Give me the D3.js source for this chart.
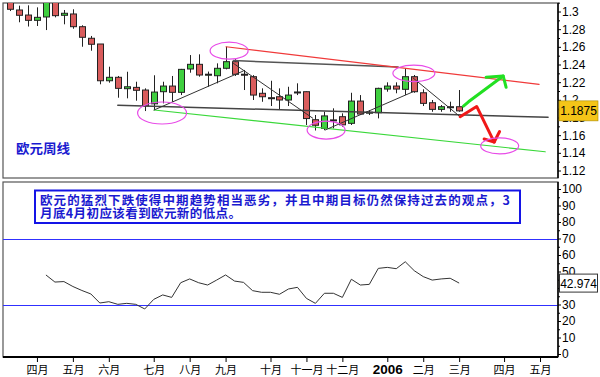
<!DOCTYPE html>
<html><head><meta charset="utf-8">
<script src="https://cdn.jsdelivr.net/npm/d3@7"></script>
<style>body{margin:0;background:#fff}svg{display:block}</style>
</head><body>
<svg id="c" width="600" height="377"></svg>
<script>
// ---------- DATA ----------
const opens  = [1.3110,1.3017,1.2960,1.2900,1.2938,1.3120,1.2957,1.2972,1.2828,1.2697,1.2632,1.2216,1.2255,1.2126,1.2141,1.2111,1.1955,1.2092,1.2156,1.2085,1.2349,1.2402,1.2284,1.2273,1.2357,1.2432,1.2290,1.2262,1.2074,1.2024,1.2035,1.1998,1.2085,1.2092,1.1775,1.1677,1.1773,1.1809,1.1734,1.1986,1.1855,1.1854,1.2122,1.2156,1.2119,1.2262,1.2080,1.1967,1.1892,1.1922,1.1922];
const highs  = [1.3140,1.3066,1.3070,1.3047,1.3150,1.3150,1.3017,1.3025,1.2844,1.2723,1.2632,1.2375,1.2270,1.2318,1.2205,1.2130,1.2278,1.2205,1.2270,1.2350,1.2507,1.2515,1.2320,1.2413,1.2601,1.2460,1.2338,1.2280,1.2130,1.2216,1.2130,1.2148,1.2187,1.2095,1.1828,1.1865,1.1904,1.1847,1.2080,1.2054,1.1884,1.2137,1.2198,1.2198,1.2357,1.2281,1.2119,1.1998,1.1941,1.1979,1.2111];
const lows   = [1.3005,1.2878,1.2830,1.2836,1.2790,1.2934,1.2855,1.2805,1.2601,1.2556,1.2176,1.2194,1.2024,1.2017,1.1990,1.1873,1.1884,1.1960,1.1978,1.2054,1.2307,1.2262,1.2148,1.2187,1.2345,1.2270,1.2111,1.1998,1.1978,1.1930,1.1885,1.1930,1.2054,1.1715,1.1653,1.1658,1.1677,1.1696,1.1715,1.1828,1.1828,1.1790,1.2092,1.2074,1.2054,1.2080,1.1930,1.1865,1.1865,1.1865,1.1865];
const closes = [1.3025,1.2957,1.2900,1.2934,1.3120,1.2953,1.2980,1.2828,1.2708,1.2629,1.2216,1.2255,1.2130,1.2148,1.2108,1.1930,1.2088,1.2156,1.2085,1.2345,1.2402,1.2281,1.2290,1.2357,1.2432,1.2289,1.2286,1.2054,1.2035,1.2020,1.1998,1.2054,1.2089,1.1788,1.1712,1.1818,1.1770,1.1717,1.1986,1.1839,1.1860,1.2130,1.2156,1.2122,1.2262,1.2092,1.1960,1.1892,1.1922,1.1920,1.1875];

const rsiStart = 4;
const rsiValues = [47.9,43.6,43.9,40.9,38.5,36.4,30.9,31.7,30.1,30.7,30.1,27.3,33.1,35.8,34.3,43.2,45.5,43.2,41.8,44.8,47.9,44.2,43.4,38.4,37.4,37.4,36.2,39.4,40.4,33.7,30.7,36.8,36.8,34.3,45.3,41.8,42.2,51.9,52.5,51.7,55.9,50.5,46.9,44.8,45.5,45.9,42.974];
const rsiLevels = [70, 30];

const monthTickIdx = [3,7,11,16,20,24,29,33,37,42,46,50,55,59];
const monthLabels  = ['四月','五月','六月','七月','八月','九月','十月','十一月','十二月','2006','二月','三月','四月','五月'];
const priceTicks = [1.12,1.14,1.16,1.18,1.20,1.22,1.24,1.26,1.28,1.30];
const rsiTicks = [0,10,20,30,40,50,60,70,80,90,100];

const lastPrice = 1.1875;
const lastRsi = 42.974;

const chartTitle = '欧元周线';
const noteLines = ['欧元的猛烈下跌使得中期趋势相当恶劣，并且中期目标仍然保持过去的观点，3','月底4月初应该看到欧元新的低点。'];

// annotation geometry in (week index, price)
const lineSupport   = [[12.0,1.1938],[59.9,1.1802]];
const lineUpperGray = [[24.87,1.2444],[43.2,1.2373]];
const lineRed       = [[24.05,1.2601],[58.9,1.2176]];
const lineGreen     = [[16.04,1.1885],[59.58,1.1412]];
const lineUp1       = [[16.04,1.1885],[25.96,1.2326]];
const lineDown1     = [[24.87,1.2413],[33.7,1.1792]];
const lineUp2       = [[35.08,1.1658],[44.88,1.2092]];
const lineDown2     = [[44.88,1.2247],[50.11,1.1809]];
const arrowRed      = [[50.11,1.1809],[51.95,1.1925],[53.9,1.1522]];
const arrowRedHead  = [[52.78,1.1556],[53.9,1.1522],[54.5,1.1641]];
const arrowGreen    = [[50.48,1.1929],[51.04,1.1978],[54.9,1.2270]];
const arrowGreenHead= [[53.0,1.2255],[54.9,1.2270],[55.23,1.2142]];
const ellipseCenters= [[16.93,1.1851],[24.39,1.2556],[35.19,1.1658],[44.96,1.2300],[54.51,1.1479]];

// ---------- DRAW ----------
const svg = d3.select('#c');
const L = 3, R = 558;
const top1 = 3, bot1 = 178, top2 = 182, bot2 = 357;
const numFont = '"Liberation Sans", Arial, sans-serif';
const cjkFont = '"Noto Sans CJK SC", "Noto Sans", sans-serif';

const x = d3.scaleLinear().domain([0,59]).range([10,540]);
const yP = d3.scaleLinear().domain([1.12,1.30]).range([170.5,11.5]);
const yR = d3.scaleLinear().domain([0,100]).range([354,189]);

svg.append('rect').attr('width',600).attr('height',377).attr('fill','#fff');

const defs = svg.append('defs');
defs.append('clipPath').attr('id','cp1').append('rect').attr('x',L).attr('y',top1).attr('width',R-L).attr('height',bot1-top1);
defs.append('clipPath').attr('id','cp2').append('rect').attr('x',L).attr('y',top2).attr('width',R-L).attr('height',bot2-top2);

// panel frames
svg.append('rect').attr('x',L).attr('y',top1).attr('width',R-L).attr('height',bot1-top1).attr('fill','#fff').attr('stroke','#555').attr('stroke-width',1.2);
svg.append('rect').attr('x',L).attr('y',top2).attr('width',R-L).attr('height',bot2-top2).attr('fill','#fff').attr('stroke','#555').attr('stroke-width',1.2);

// ---- top panel ----
const g1 = svg.append('g').attr('clip-path','url(#cp1)');
const candles = opens.map((o,i)=>({i,o,h:highs[i],l:lows[i],c:closes[i]}));
const cg = g1.append('g');
cg.selectAll('line.w').data(candles).join('line')
  .attr('x1',d=>Math.round(x(d.i))+0.5).attr('x2',d=>Math.round(x(d.i))+0.5)
  .attr('y1',d=>yP(d.h)).attr('y2',d=>yP(d.l)).attr('stroke','#222').attr('stroke-width',1);
cg.selectAll('rect.b').data(candles).join('rect')
  .attr('x',d=>Math.round(x(d.i))-2.5).attr('width',6)
  .attr('y',d=>Math.min(yP(d.o),yP(d.c)))
  .attr('height',d=>Math.max(1,Math.abs(yP(d.o)-yP(d.c))))
  .attr('fill',d=>d.c>=d.o?'#3fcf3f':'#d95c5c')
  .attr('stroke','#222').attr('stroke-width',1);

const lineP = d3.line().x(d=>x(d[0])).y(d=>yP(d[1]));
function pl(data,color,w){ g1.append('path').attr('d',lineP(data)).attr('fill','none').attr('stroke',color).attr('stroke-width',w).attr('stroke-linejoin','round').attr('stroke-linecap','round'); }
pl(lineSupport,'#444',1.5);
pl(lineUpperGray,'#555',1.5);
pl(lineRed,'#f03a3a',1.2);
pl(lineGreen,'#3ad83a',1.2);
pl(lineUp1,'#333',1);
pl(lineDown1,'#333',1);
pl(lineUp2,'#333',1);
pl(lineDown2,'#333',1);
pl(arrowRed,'#f01818',3);
pl(arrowRedHead,'#f01818',3);
pl(arrowGreen,'#22e022',3);
pl(arrowGreenHead,'#22e022',3);

const radii = [[24.5,11],[19,8.5],[19,9],[21,8.3],[19,8]];
g1.selectAll('ellipse').data(ellipseCenters).join('ellipse')
  .attr('cx',d=>x(d[0])).attr('cy',d=>yP(d[1]))
  .attr('rx',(d,i)=>radii[i][0]).attr('ry',(d,i)=>radii[i][1])
  .attr('fill','none').attr('stroke','#e84ce8').attr('stroke-width',1.2);

svg.append('text').attr('x',16).attr('y',153).text(chartTitle)
  .attr('font-family',cjkFont).attr('font-weight','bold').attr('font-size',13)
  .attr('fill','#1a1ad0').attr('textLength',54).attr('lengthAdjust','spacingAndGlyphs');

// right price axis
const axP = svg.append('g').attr('transform',`translate(${R},0)`)
  .call(d3.axisRight(yP).tickValues(priceTicks).tickSize(3).tickPadding(1).tickFormat(d=>String(+d.toFixed(2))));
axP.select('.domain').attr('d',`M0,${top1}V${bot1}`).attr('stroke','#000').attr('stroke-width',1.5);
axP.selectAll('text').attr('font-family',numFont).attr('font-size',12).attr('fill','#000');
svg.append('g').attr('transform',`translate(${R},0)`)
  .call(d3.axisRight(yP).tickValues(d3.range(0,10).map(k=>priceTicks[k]+0.01)).tickSize(2).tickFormat(''))
  .select('.domain').remove();

// ---- bottom panel ----
const g2 = svg.append('g').attr('clip-path','url(#cp2)');
g2.selectAll('line.lv').data(rsiLevels).join('line')
  .attr('x1',L).attr('x2',R).attr('y1',d=>Math.round(yR(d))+0.5).attr('y2',d=>Math.round(yR(d))+0.5)
  .attr('stroke','#3030ff').attr('stroke-width',1.2);
g2.append('path')
  .attr('d',d3.line().x((d,k)=>x(rsiStart+k)).y(d=>yR(d))(rsiValues))
  .attr('fill','none').attr('stroke','#333').attr('stroke-width',1);

// note box
svg.append('rect').attr('x',35).attr('y',190.5).attr('width',485).attr('height',32.5)
  .attr('fill','#fff').attr('stroke','#1414e6').attr('stroke-width',2);
svg.selectAll('text.note').data(noteLines).join('text')
  .attr('x',40).attr('y',(d,i)=>205+i*13.3).text(d=>d)
  .attr('font-family',cjkFont).attr('font-weight','bold').attr('font-size',12.5)
  .attr('fill','#1a1ad0')
  .attr('textLength',(d,i)=>i===0?470:201).attr('lengthAdjust','spacing');

// right RSI axis (label hidden behind the value box in the reference is left blank)
const rY = yR(lastRsi);
const axR = svg.append('g').attr('transform',`translate(${R},0)`)
  .call(d3.axisRight(yR).tickValues(rsiTicks).tickSize(3).tickPadding(1)
    .tickFormat(d=>Math.abs(yR(d)-rY)<5?'':String(d)));
axR.select('.domain').attr('d',`M0,${top2}V${bot2}`).attr('stroke','#000').attr('stroke-width',1.5);
axR.selectAll('text').attr('font-family',numFont).attr('font-size',12).attr('fill','#000');
svg.append('g').attr('transform',`translate(${R},0)`)
  .call(d3.axisRight(yR).tickValues(rsiTicks.slice(0,10).map(v=>v+5)).tickSize(2).tickFormat(''))
  .select('.domain').remove();

// bottom x axis
const axX = svg.append('g').attr('transform',`translate(0,${bot2})`)
  .call(d3.axisBottom(x).tickValues(monthTickIdx).tickSize(5).tickFormat((d,i)=>monthLabels[i]));
axX.select('.domain').attr('d',`M${L},0H${R}`).attr('stroke','#000').attr('stroke-width',2);
axX.selectAll('text').attr('dy',null).attr('y',17)
  .attr('font-family',d=>cjkFont).attr('font-size',11).attr('fill','#000')
  .filter((d,i)=>monthLabels[i]==='2006').attr('font-family',numFont).attr('font-weight','bold').attr('font-size',13.5);

// value labels
const pY = yP(lastPrice);
svg.append('rect').attr('x',559).attr('y',pY-10).attr('width',39).attr('height',20).attr('fill','#f5c518').attr('stroke','#a88a00').attr('stroke-width',0.6);
svg.append('text').attr('x',578.5).attr('y',pY+4.5).attr('text-anchor','middle').text(lastPrice.toFixed(4))
  .attr('font-family',numFont).attr('font-size',12).attr('fill','#000');
svg.append('rect').attr('x',559.5).attr('y',rY-9).attr('width',38).attr('height',18).attr('fill','#fff').attr('stroke','#333').attr('stroke-width',1);
svg.append('text').attr('x',578.5).attr('y',rY+4.5).attr('text-anchor','middle').text(String(lastRsi))
  .attr('font-family',numFont).attr('font-size',12).attr('fill','#000');
</script>
</body></html>
